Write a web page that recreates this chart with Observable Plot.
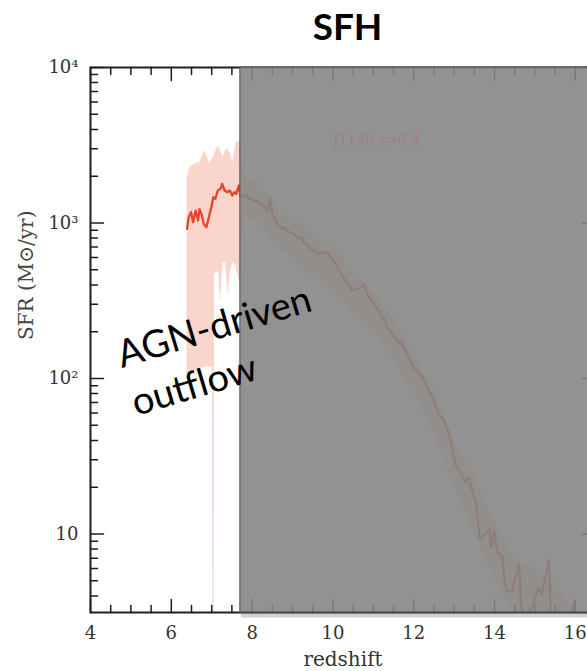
<!DOCTYPE html>
<html><head><meta charset="utf-8">
<script src="https://cdn.jsdelivr.net/npm/d3@7"></script>
<script src="https://cdn.jsdelivr.net/npm/@observablehq/plot@0.6"></script>
<style>
html,body{margin:0;padding:0;overflow:hidden;background:#fff;}
#wrap{position:relative;width:587px;height:671px;overflow:hidden;background:#fff;}
#title{position:absolute;left:0;top:7px;width:587px;box-sizing:border-box;padding-left:108px;text-align:center;font-family:Lato,sans-serif;font-weight:700;font-size:37px;line-height:1;color:#000;}
#chart{position:absolute;left:0;top:50px;}
</style></head><body>
<div id="wrap"><div id="title">SFH</div><div id="chart"></div></div>
<script>
// ---- data ----
const titleText = "SFH";
const xDomain = [4, 16.5];
const yDomain = [3.13, 10000];
const xMajor = [4, 6, 8, 10, 12, 14, 16];
const xMinor = [4.5, 5, 5.5, 6.5, 7, 7.5, 8.5, 9, 9.5, 10.5, 11, 11.5, 12.5, 13, 13.5, 14.5, 15, 15.5, 16.5];
const yMajor = [10, 100, 1000, 10000];
const yTickLabels = ["10", "10\u00B2", "10\u00B3", "10\u2074"];
const yMinor = [4, 5, 6, 7, 8, 9, 20, 30, 40, 50, 60, 70, 80, 90, 200, 300, 400, 500, 600, 700, 800, 900, 2000, 3000, 4000, 5000, 6000, 7000, 8000, 9000];

// SFH median curve (redshift, SFR)
const lineZ = [6.39, 6.43, 6.49, 6.54, 6.60, 6.66, 6.70, 6.76, 6.80, 6.87, 6.93, 6.99, 7.04, 7.09, 7.15, 7.22, 7.26, 7.32, 7.38, 7.45, 7.51, 7.56, 7.61, 7.67, 7.71,
  7.78, 7.85, 7.90, 7.96, 8.05, 8.13, 8.20, 8.29, 8.37, 8.44, 8.50, 8.62, 8.74, 8.80, 8.91, 9.00, 9.07, 9.16, 9.22, 9.28, 9.36, 9.45, 9.53, 9.61, 9.73, 9.86, 9.98,
  10.05, 10.11, 10.23, 10.35, 10.42, 10.48, 10.60, 10.68, 10.77, 10.85, 10.97, 11.03, 11.10, 11.22, 11.28, 11.34, 11.47, 11.59, 11.70, 11.76, 11.88,
  12.00, 12.13, 12.21, 12.29, 12.37, 12.50, 12.62, 12.75, 12.87, 12.95, 13.03, 13.13, 13.27, 13.36, 13.45, 13.55, 13.59, 13.64, 13.78, 13.87, 13.92, 13.99,
  14.06, 14.20, 14.24, 14.29, 14.43, 14.61, 14.66, 14.75, 14.94, 15.08, 15.17, 15.35, 15.40, 15.50, 15.85, 15.95, 16.00];
const lineSFR = [918, 1089, 1175, 1012, 1202, 1038, 1230, 1117, 989, 940, 1089, 1259, 1466, 1432, 1618, 1660, 1786, 1618, 1578, 1618, 1503, 1578, 1542, 1742, 1503,
  1470, 1530, 1450, 1432, 1380, 1397, 1330, 1297, 1202, 1432, 1146, 988, 918, 940, 874, 860, 832, 791, 810, 753, 730, 683, 660, 634, 640, 649, 589,
  560, 520, 459, 406, 390, 368, 378, 385, 401, 351, 310, 300, 281, 248, 240, 214, 194, 175, 168, 159, 137,
  118, 110, 102, 92, 84, 72, 59, 54, 44, 36, 28, 25.6, 21.5, 23.2, 19, 15.6, 12.2, 9.3, 10, 10.8, 8.2, 10.5,
  7.8, 7.1, 5.3, 4.3, 4.3, 6.4, 3.47, 3.0, 3.4, 4.5, 4.1, 6.8, 2.5, 2.5, 2.5, 3.6, 2.5];

// uncertainty band
const bandZ = [6.39, 6.43, 6.50, 6.60, 6.70, 6.83, 6.95, 7.02, 7.03, 7.06, 7.07, 7.12, 7.17, 7.22, 7.28, 7.34, 7.40, 7.46, 7.53, 7.60, 7.71,
  7.80, 8.20, 8.60, 9.00, 9.50, 10.00, 10.50, 11.00, 11.50, 12.00, 12.50, 13.00, 13.50, 14.00, 14.50, 15.00, 15.50, 16.00, 16.50];
const bandHigh = [1875, 2180, 2300, 2415, 2450, 2925, 2415, 2600, 2630, 2700, 2800, 3000, 3150, 2900, 2630, 2900, 3015, 2800, 2450, 3240, 3390,
  2000, 1800, 1300, 1100, 850, 700, 480, 360, 250, 140, 85, 40, 24, 12, 7, 6, 5, 3, 3];
const bandLow = [107, 107, 110, 112, 115, 118, 120, 118, 2, 2, 470, 480, 490, 300, 550, 560, 350, 480, 560, 520, 400,
  1100, 1000, 700, 600, 450, 380, 260, 200, 130, 80, 45, 20, 10, 5, 3, 3, 2, 2, 2];

const shadeStart = 7.71;           // left edge of the grey overlay
const objectLabel = ["J1148 z=6.4"];
const objectLabelZ = [11.08];
const objectLabelSFR = [3390];
const annotText = ["AGN-driven\noutflow"];
const annotZ = [5.13];
const annotSFR = [57.4];
const xLabel = "redshift";
const yLabel = "SFR (M\u2299/yr)";

// ---- build tables ----
const lineRows = lineZ.map((z, i) => ({z, sfr: lineSFR[i]}));
const bandRows = bandZ.map((z, i) => ({z, low: bandLow[i], high: bandHigh[i]}));
const shadeRows = [{x1: shadeStart, x2: xDomain[1], y1: yDomain[0], y2: yDomain[1]}];
const labelRows = objectLabel.map((t, i) => ({t, z: objectLabelZ[i], sfr: objectLabelSFR[i]}));
const annotRows = annotText.map((t, i) => ({t, z: annotZ[i], sfr: annotSFR[i]}));

document.getElementById("title").textContent = titleText;

const axisColor = "#1e1e1e";
const tickShape = {draw(ctx, l) { ctx.moveTo(0, 0); ctx.lineTo(0, -l); }};
const tk = {anchor: "start", shape: tickShape, stroke: axisColor, strokeWidth: 1.5};

const plot = Plot.plot({
  width: 587, height: 621,
  marginTop: 17, marginBottom: 59, marginLeft: 90, marginRight: -8,
  x: {domain: xDomain},
  y: {type: "log", domain: yDomain},
  marks: [
    Plot.areaY(bandRows, {x: "z", y1: "low", y2: "high", fill: "#f9d5cb", clip: true}),
    Plot.line(lineRows, {x: "z", y: "sfr", stroke: "#e8442c", strokeWidth: 2.3, clip: true}),
    // inward ticks
    Plot.vectorY(yMajor, {y: d => d, frameAnchor: "left", rotate: 90, length: 13, ...tk}),
    Plot.vectorY(yMinor, {y: d => d, frameAnchor: "left", rotate: 90, length: 7, ...tk}),
    Plot.vectorY(yMajor, {y: d => d, frameAnchor: "right", rotate: -90, length: 13, ...tk}),
    Plot.vectorY(yMinor, {y: d => d, frameAnchor: "right", rotate: -90, length: 7, ...tk}),
    Plot.vectorX(xMajor, {x: d => d, frameAnchor: "bottom", rotate: 0, length: 13, ...tk}),
    Plot.vectorX(xMinor, {x: d => d, frameAnchor: "bottom", rotate: 0, length: 7, ...tk}),
    Plot.vectorX(xMajor, {x: d => d, frameAnchor: "top", rotate: 180, length: 13, ...tk}),
    Plot.vectorX(xMinor, {x: d => d, frameAnchor: "top", rotate: 180, length: 7, ...tk}),
    Plot.frame({stroke: axisColor, strokeWidth: 2}),
    // grey overlay and its shadow
    Plot.ruleY([yDomain[0]], {x1: shadeStart, x2: xDomain[1], dy: 3, dx: 1, stroke: "#000", strokeOpacity: 0.18, strokeWidth: 4}),
    Plot.rect(shadeRows, {x1: "x1", x2: "x2", y1: "y1", y2: "y2", fill: "#858585", fillOpacity: 0.89, stroke: "#5e5e5e", strokeWidth: 1.2}),
    Plot.text(labelRows, {x: "z", y: "sfr", text: "t", fill: "#a47c7c", fontFamily: "DejaVu Serif", fontSize: 14}),
    // axes
    Plot.axisX(xMajor, {anchor: "bottom", tickSize: 0, tickPadding: 14, fontSize: 18, fontFamily: "DejaVu Serif", fill: "#333", label: null, tickFormat: d => String(d)}),
    Plot.axisY(yMajor, {anchor: "left", tickSize: 0, tickPadding: 12, fontSize: 18, fontFamily: "DejaVu Serif", fill: "#333", label: null, tickFormat: d => yTickLabels[yMajor.indexOf(d)]}),
    Plot.text([xLabel], {frameAnchor: "bottom", dy: 53, lineAnchor: "bottom", fontSize: 20, fontFamily: "DejaVu Serif", fill: "#333"}),
    Plot.text([yLabel], {frameAnchor: "left", dx: -64, rotate: -90, lineAnchor: "middle", fontSize: 20, fontFamily: "DejaVu Serif", fill: "#444"}),
    // annotation
    Plot.text(annotRows, {x: "z", y: "sfr", text: "t", rotate: -16.7, textAnchor: "start", lineAnchor: "bottom", lineHeight: 1.32, fontSize: 38, fontFamily: "Lato", fill: "#000"})
  ]
});
document.getElementById("chart").appendChild(plot);
</script>
</body></html>
